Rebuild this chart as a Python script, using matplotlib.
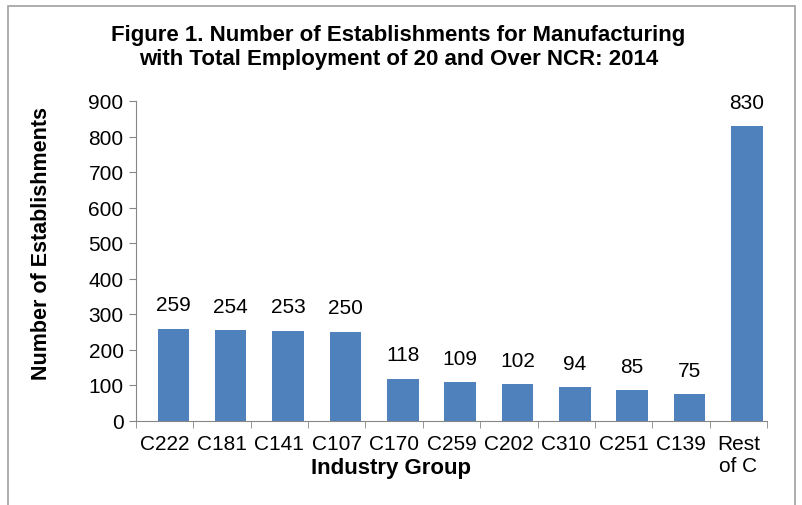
import matplotlib.pyplot as plt
import numpy as np

groups = ['C222', 'C181', 'C141', 'C107', 'C170', 'C259', 'C202', 'C310', 'C251', 'C139', 'Rest\nof C']
counts = [259, 254, 253, 250, 118, 109, 102, 94, 85, 75, 830]
yticks = [0, 100, 200, 300, 400, 500, 600, 700, 800, 900]

plt.rcParams['font.family'] = ['Liberation Sans', 'DejaVu Sans']

fig = plt.figure(figsize=(8.02, 5.06), dpi=100)
ax = fig.add_axes([136 / 802, 1 - 421.5 / 506, 631 / 802, 319.5 / 506])

x = np.arange(len(groups))
shift = 0.15  # bars sit a little right of the category centre in the original
ax.bar(x + shift, counts, width=0.55, color='#4F81BD')
for xi, v in zip(x, counts):
    ax.text(xi + shift, v + 67, str(v), ha='center', va='center', fontsize=15)

ax.set_xlim(-0.5, len(groups) - 0.5)
ax.set_ylim(0, 900)
ax.set_yticks(yticks)
ax.set_xticks(x)
ax.set_xticklabels(groups, fontsize=15, linespacing=1.2)
ax.set_xticks(np.arange(len(groups) + 1) - 0.5, minor=True)
ax.tick_params(axis='x', which='major', length=0, pad=10)
ax.tick_params(axis='x', which='minor', length=5, color='#868686')
ax.tick_params(axis='y', length=5, color='#868686', labelsize=15, pad=4)

for s in ['top', 'right']:
    ax.spines[s].set_visible(False)
for s in ['left', 'bottom']:
    ax.spines[s].set_color('#868686')

fig.text(0.497, 1 - 47.5 / 506, 'Figure 1. Number of Establishments for Manufacturing\nwith Total Employment of 20 and Over NCR: 2014',
         ha='center', va='center', fontsize=16, fontweight='bold', linespacing=1.13)
fig.text(391 / 802, 1 - 469 / 506, 'Industry Group', ha='center', va='center', fontsize=16, fontweight='bold')
fig.text(42 / 802, 1 - 243 / 506, 'Number of Establishments', ha='center', va='center', rotation=90,
         fontsize=15.5, fontweight='bold')

# outer frame of the chart area
fig.add_artist(plt.Rectangle((8 / 802, -0.05), 787 / 802, 1.05 - 7 / 506, transform=fig.transFigure,
                             fill=False, edgecolor='#A0A0A0', linewidth=1.2))

fig.savefig('out.png', dpi=100)
